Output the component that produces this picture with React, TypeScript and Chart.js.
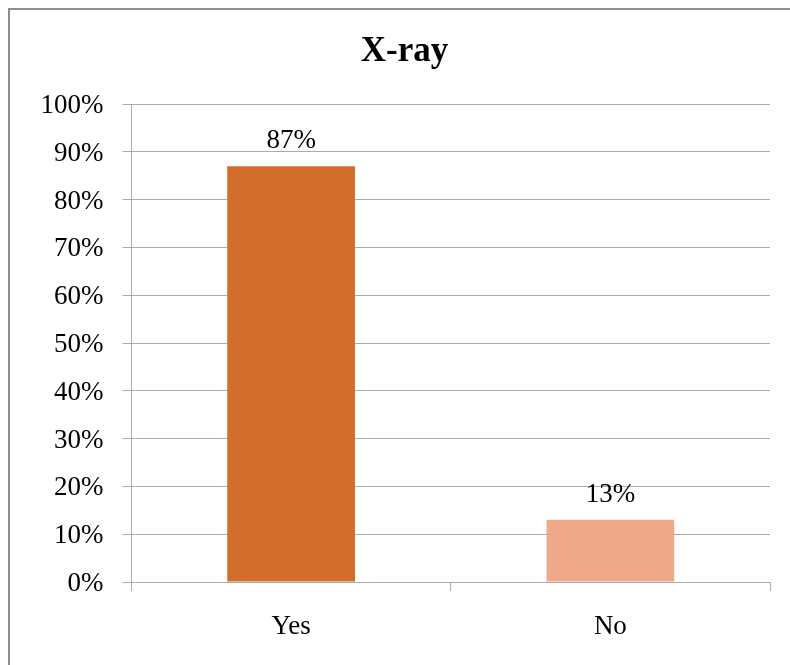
import React, { useEffect, useRef } from "react";
import { Chart, registerables } from "chart.js";

Chart.register(...registerables);

const categories = ["Yes", "No"];
const values = [87, 13];
const barColors = ["#D36D2B", "#F0A88A"];
const yTicks = [0, 10, 20, 30, 40, 50, 60, 70, 80, 90, 100];
const title = "X-ray";

const FONT = "'Liberation Serif', 'Times New Roman', serif";
const GRID = "#ababab";

const valueLabels = {
  id: "valueLabels",
  afterDatasetsDraw(chart: any) {
    const ctx = chart.ctx;
    const meta = chart.getDatasetMeta(0);
    ctx.save();
    ctx.font = `27px ${FONT}`;
    ctx.fillStyle = "#000";
    ctx.textAlign = "center";
    ctx.textBaseline = "alphabetic";
    meta.data.forEach((bar: any, i: number) => {
      const v = chart.data.datasets[0].data[i];
      ctx.fillText(`${v}%`, bar.x, bar.y - 18);
    });
    ctx.restore();
  },
};

export default function App() {
  const ref = useRef<HTMLCanvasElement>(null);
  useEffect(() => {
    if (!ref.current) return;
    const chart = new Chart(ref.current, {
      type: "bar",
      data: {
        labels: categories,
        datasets: [
          {
            data: values,
            backgroundColor: barColors,
            borderWidth: 0,
            barPercentage: 1,
            categoryPercentage: 0.4,
            yAxisID: "y",
          },
        ],
      },
      plugins: [valueLabels],
      options: {
        responsive: false,
        animation: false,
        layout: { padding: 0 },
        plugins: {
          legend: { display: false },
          tooltip: { enabled: false },
          title: {
            display: true,
            text: title,
            color: "#000",
            font: { family: FONT, size: 35, weight: "bold", lineHeight: 1.2 },
            padding: { top: 21, bottom: 31 },
          },
        },
        scales: {
          x: {
            grid: {
              offset: true,
              drawOnChartArea: false,
              drawTicks: true,
              tickLength: 9,
              color: GRID,
              lineWidth: 1,
            },
            border: { display: true, color: GRID, width: 1 },
            ticks: {
              color: "#000",
              font: { family: FONT, size: 27 },
              padding: 20,
              maxRotation: 0,
            },
            afterFit(scale: any) {
              scale.height = 108;
            },
          },
          y: {
            min: 0,
            max: 100,
            afterBuildTicks(scale: any) {
              scale.ticks = yTicks.map((v) => ({ value: v }));
            },
            grid: {
              color: GRID,
              lineWidth: 1,
              drawTicks: true,
              tickLength: 9,
            },
            border: { display: true, color: GRID, width: 1 },
            ticks: {
              color: "#000",
              font: { family: FONT, size: 27 },
              padding: 19,
              labelOffset: 2,
              callback: (v: any) => `${v}%`,
            },
            afterFit(scale: any) {
              scale.width = 121.5;
            },
          },
          yRight: {
            position: "right",
            min: 0,
            max: 100,
            grid: { display: false, drawOnChartArea: false },
            border: { display: false },
            ticks: { display: false },
            afterFit(scale: any) {
              scale.width = 29;
            },
          },
        },
      },
    } as any);
    return () => chart.destroy();
  }, []);

  return (
    <div
      style={{
        position: "fixed",
        left: 8,
        top: 8,
        right: 0,
        bottom: 0,
        overflow: "hidden",
        borderTop: "2px solid #8e8e8e",
        borderLeft: "2px solid #8e8e8e",
        background: "#fff",
      }}
    >
      <canvas
        ref={ref}
        width={789}
        height={680}
        style={{ display: "block", width: 789, height: 680 }}
      />
    </div>
  );
}
